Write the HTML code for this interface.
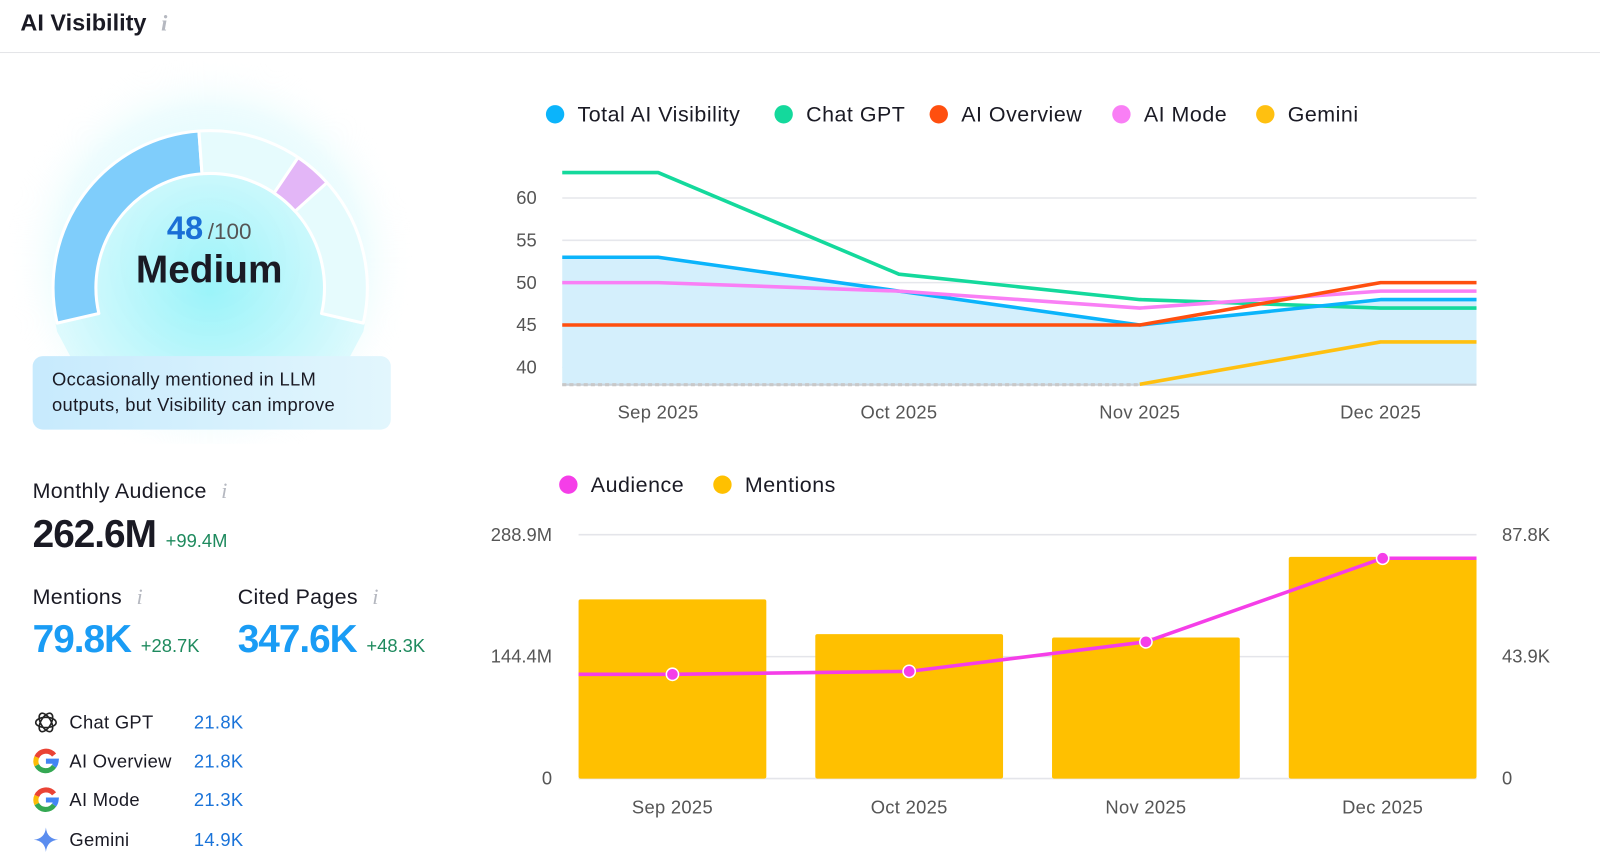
<!DOCTYPE html>
<html><head><meta charset="utf-8">
<style>
body{margin:0;width:1600px;height:866px;background:#fff;font-family:"Liberation Sans",sans-serif;color:#1a1a24;position:relative;overflow:hidden}
#wrap{position:absolute;left:0;top:0;width:1568px;height:849px;transform:scale(1.0204);transform-origin:0 0}
.abs{position:absolute}
.info{color:#b5b8c0;font-style:italic;font-family:"Liberation Serif",serif;font-size:22px}
.lbl{font-size:21px;color:#1a1a24;letter-spacing:0.3px}
.green{color:#1e8a5e}
.row{position:absolute;left:32px;font-size:18px;display:flex;align-items:center;letter-spacing:0.3px}
.row .n{position:absolute;left:158px;color:#1a73d9}
.row .t{margin-left:10px}
</style></head><body>
<div id="wrap">
<div class="abs" style="left:0;top:0;width:1568px;height:51px;border-bottom:1px solid #e3e4e8">
 <div class="abs" style="left:20px;top:9px;font-size:23px;font-weight:bold">AI Visibility <span class="info" style="margin-left:8px">i</span></div>
</div>

<svg class="abs" style="left:0;top:55px" width="440" height="380">
 <defs>
  <radialGradient id="glow" cx="206" cy="200" r="200" gradientUnits="userSpaceOnUse">
   <stop offset="0" stop-color="#b7f5fb" stop-opacity="0.9"/><stop offset="0.75" stop-color="#e3fbfd" stop-opacity="0.6"/><stop offset="1" stop-color="#fff" stop-opacity="0"/>
  </radialGradient>
  <radialGradient id="inner" cx="206" cy="230" r="150" gradientUnits="userSpaceOnUse">
   <stop offset="0" stop-color="#93f3f9"/><stop offset="1" stop-color="#d8f9fd"/>
  </radialGradient>
 </defs>
 <circle cx="206" cy="200" r="200" fill="url(#glow)"/>
 <path d="M56 270 A154 154 0 1 1 356 270 L340 300 L72 300 Z" fill="url(#inner)" opacity="0.85"/>
 <g id="gaugeArcs"></g>
</svg>
<div class="abs" style="left:0;width:410px;text-align:center;top:205px"><span style="color:#1a6fd6;font-weight:bold;font-size:32px">48</span> <span style="color:#555;font-size:22px">/100</span></div>
<div class="abs" style="left:0;width:410px;text-align:center;top:244px;font-size:38px;font-weight:bold">Medium</div>
<div class="abs" style="left:32px;top:349px;width:351px;height:72px;padding:11px 40px 0 19px;background:linear-gradient(90deg,#c7eafd,#e2f6fd);border-radius:10px;font-size:18px;line-height:25px;box-sizing:border-box;letter-spacing:0.3px">Occasionally mentioned in LLM outputs, but Visibility can improve</div>

<div class="abs lbl" style="left:32px;top:468px">Monthly Audience <span class="info" style="margin-left:8px">i</span></div>
<div class="abs" style="left:32px;top:503px;font-size:38px;font-weight:bold;letter-spacing:-1px">262.6M <span class="green" style="font-size:18px;font-weight:normal;letter-spacing:0">+99.4M</span></div>
<div class="abs lbl" style="left:32px;top:572px">Mentions <span class="info" style="margin-left:8px">i</span></div>
<div class="abs" style="left:32px;top:606px;font-size:38px;font-weight:bold;color:#1a9cf5;letter-spacing:-1px">79.8K <span class="green" style="font-size:18px;font-weight:normal;letter-spacing:0">+28.7K</span></div>
<div class="abs lbl" style="left:233px;top:572px">Cited Pages <span class="info" style="margin-left:8px">i</span></div>
<div class="abs" style="left:233px;top:606px;font-size:38px;font-weight:bold;color:#1a9cf5;letter-spacing:-1px">347.6K <span class="green" style="font-size:18px;font-weight:normal;letter-spacing:0">+48.3K</span></div>

<div class="row" style="top:695px"><svg width="26" height="26" viewBox="0 0 26 26"><g fill="none" stroke="#222" stroke-width="1.6"><ellipse cx="13" cy="13" rx="10" ry="5"/><ellipse cx="13" cy="13" rx="10" ry="5" transform="rotate(60 13 13)"/><ellipse cx="13" cy="13" rx="10" ry="5" transform="rotate(120 13 13)"/></g></svg><span class="t">Chat GPT</span><span class="n">21.8K</span></div>
<div class="row" style="top:733px"><svg width="26" height="26" viewBox="0 0 26 26"><g fill="none" stroke-width="5"><path d="M21 7 A10 10 0 0 0 4 9" stroke="#ea4335"/><path d="M4 9 A10 10 0 0 0 4 17" stroke="#fbbc05"/><path d="M4 17 A10 10 0 0 0 21 18" stroke="#34a853"/><path d="M21 18 A10 10 0 0 0 23 13 L13 13" stroke="#4285f4"/></g></svg><span class="t">AI Overview</span><span class="n">21.8K</span></div>
<div class="row" style="top:771px"><svg width="26" height="26" viewBox="0 0 26 26"><g fill="none" stroke-width="5"><path d="M21 7 A10 10 0 0 0 4 9" stroke="#ea4335"/><path d="M4 9 A10 10 0 0 0 4 17" stroke="#fbbc05"/><path d="M4 17 A10 10 0 0 0 21 18" stroke="#34a853"/><path d="M21 18 A10 10 0 0 0 23 13 L13 13" stroke="#4285f4"/></g></svg><span class="t">AI Mode</span><span class="n">21.3K</span></div>
<div class="row" style="top:810px"><svg width="26" height="26" viewBox="0 0 26 26"><path d="M13 1 Q14 12 25 13 Q14 14 13 25 Q12 14 1 13 Q12 12 13 1Z" fill="#5b8def"/></svg><span class="t">Gemini</span><span class="n">14.9K</span></div>

<svg class="abs" id="chart" style="left:0;top:0" width="1568" height="849"></svg>
</div>

<script>
// ---- top chart data ----
const months = ["Sep 2025","Oct 2025","Nov 2025","Dec 2025"];
const visTicks = [40,45,50,55,60];
const totalVis = [53,49,45,48];
const chatGpt = [63,51,48,47];
const aiOverview = [45,45,45,50];
const aiMode = [50,49,47,49];
const gemini = [null,null,38,43];
// ---- bottom chart data ----
const audience = [123.5,127,162,261];        // millions
const mentions = [64.5,52,50.8,79.8];        // thousands
const audTicks = ["0","144.4M","288.9M"];
const menTicks = ["0","43.9K","87.8K"];
const audMax = 288.9, menMax = 87.8;
const gaugeScore = 48;

const NS="http://www.w3.org/2000/svg";
const svg=document.getElementById('chart');
function mk(tag,attrs,parent){const e=document.createElementNS(NS,tag);for(const k in attrs)e.setAttribute(k,attrs[k]);(parent||svg).appendChild(e);return e;}
function txt(x,y,s,attrs){const e=mk('text',Object.assign({x:x,y:y,'font-family':'Liberation Sans, sans-serif'},attrs));e.textContent=s;return e;}

// gauge
(function(){
 const g=document.getElementById('gaugeArcs');
 const cx=206,cy=227,ro=154,ri=112,a0=-103,a1=103;
 function pt(a,r){const t=(a-90)*Math.PI/180;return [cx+r*Math.cos(t),cy+r*Math.sin(t)];}
 function seg(s,e,fill,name){const p1=pt(s,ro),p2=pt(e,ro),p3=pt(e,ri),p4=pt(s,ri);const lg=(e-s)>180?1:0;
  const p=document.createElementNS(NS,'path');p.setAttribute('d',`M${p1} A${ro} ${ro} 0 ${lg} 1 ${p2} L${p3} A${ri} ${ri} 0 ${lg} 0 ${p4}Z`);
  p.setAttribute('fill',fill);p.setAttribute('stroke','#fff');p.setAttribute('stroke-width','3');p.setAttribute('stroke-linejoin','round');
  
  
  g.appendChild(p);}
 const split=a0+(a1-a0)*gaugeScore/100;
 seg(a0,split,'#7fcdfb','gauge-score-arc');
 seg(split,a1,'#e6fbfd','gauge-remaining-arc');
 seg(34,48,'#e3b6f7','gauge-target-marker');
})();

// top chart
const tL=551,tR=1447,tY=(v)=>360-(v-40)*8.3;
const mx=(i)=>645+i*236;
visTicks.forEach(v=>{const l=mk('line',{x1:tL,x2:tR,y1:tY(v),y2:tY(v),stroke:'#e6e7ec','stroke-width':1.5});


const t=txt(526,tY(v)+6,String(v),{'font-size':18,fill:'#555','text-anchor':'end'});

});
const tBase=377;
function linePts(arr){const pts=[];arr.forEach((v,i)=>{if(v==null)return;if(i===0)pts.push([tL,tY(v)]);pts.push([mx(i),tY(v)]);if(i===arr.length-1)pts.push([tR,tY(v)]);});return pts;}
const tp=linePts(totalVis);
const area=mk('path',{d:'M'+tL+' '+tBase+' L'+tp.map(p=>p.join(' ')).join(' L')+' L'+tR+' '+tBase+'Z',fill:'#d4effc'});


const bl=mk('line',{x1:tL,x2:tR,y1:tBase,y2:tBase,stroke:'#c9d3dc','stroke-width':2});


const gd=mk('line',{x1:tL,x2:mx(2),y1:tBase,y2:tBase,stroke:'#c8c8c8','stroke-width':3,'stroke-dasharray':'4 3'});


const series=[['chatgpt-line',chatGpt,'#14d99c'],['total-visibility-line',totalVis,'#0bb4fb'],['ai-mode-line',aiMode,'#f97ff5'],['ai-overview-line',aiOverview,'#ff4f0f'],['gemini-line',gemini,'#ffc010']];
series.forEach(s=>{const p=mk('polyline',{points:linePts(s[1]).map(q=>q.join(',')).join(' '),fill:'none',stroke:s[2],'stroke-width':3.5,'stroke-linejoin':'round'});

});
months.forEach((m,i)=>{const t=txt(mx(i),410,m,{'font-size':18,fill:'#555','text-anchor':'middle','letter-spacing':'0.3'});

});
// top legend
const legs=[['Total AI Visibility','#0bb4fb',544],['Chat GPT','#14d99c',768],['AI Overview','#ff4f0f',920],['AI Mode','#f97ff5',1099],['Gemini','#ffc010',1240]];
legs.forEach(l=>{const g=mk('g',{});

mk('circle',{cx:l[2],cy:112,r:9,fill:l[1]},g);const t=txt(l[2]+22,119,l[0],{'font-size':21,fill:'#1a1a24','letter-spacing':'0.5'});g.appendChild(t);});

// bottom chart
const bL=567,bR=1447,bBase=763,bTop=524,bH=bBase-bTop;
const yA=(v)=>bBase-v/audMax*bH, yM=(v)=>bBase-v/menMax*bH, bx=(i)=>659+i*232;
audTicks.forEach((t,i)=>{const y=bBase-i*bH/2;const l=mk('line',{x1:bL,x2:bR,y1:y,y2:y,stroke:'#e4e5ea','stroke-width':1.5});


const a=txt(541,y+6,t,{'font-size':18,fill:'#555','text-anchor':'end'});


const b=txt(1472,y+6,menTicks[i],{'font-size':18,fill:'#555'});

});
mentions.forEach((v,i)=>{const r=mk('rect',{x:bx(i)-92,y:yM(v),width:184,height:bBase-yM(v),fill:'#ffc000',rx:2});

});
const ap=[[bL,yA(audience[0])]].concat(audience.map((v,i)=>[bx(i),yA(v)])).concat([[bR,yA(audience[3])]]);
const al=mk('polyline',{points:ap.map(q=>q.join(',')).join(' '),fill:'none',stroke:'#f53ee8','stroke-width':3.5});


audience.forEach((v,i)=>{const c=mk('circle',{cx:bx(i),cy:yA(v),r:6,fill:'#f53ee8',stroke:'#fff','stroke-width':1.5});

});
months.forEach((m,i)=>{const t=txt(bx(i),797,m,{'font-size':18,fill:'#555','text-anchor':'middle','letter-spacing':'0.3'});

});
[['Audience','#f53ee8',557],['Mentions','#ffc000',708]].forEach(l=>{const g=mk('g',{});

mk('circle',{cx:l[2],cy:475,r:9,fill:l[1]},g);g.appendChild(txt(l[2]+22,482,l[0],{'font-size':21,fill:'#1a1a24','letter-spacing':'0.5'}));});
</script>
</body></html>
